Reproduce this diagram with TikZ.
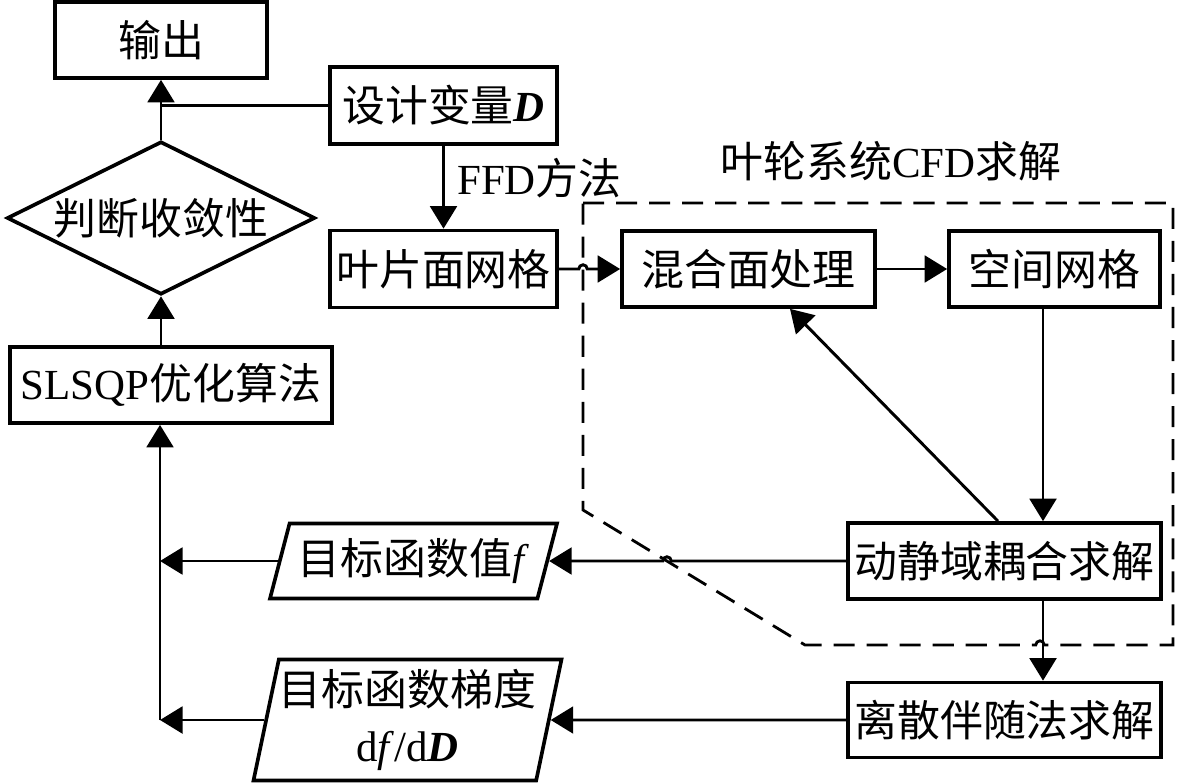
\documentclass[tikz,border=0pt]{standalone}
\usepackage{fontspec}
\setmainfont{Liberation Serif}
\newfontfamily\cjk{Noto Sans CJK SC}
\newcommand{\zh}[1]{{\cjk #1}}
\newcommand{\bigfs}{\fontsize{30.5}{40}\selectfont}
\usetikzlibrary{arrows.meta, shapes.geometric}
\begin{document}
\begin{tikzpicture}[x=0.025cm, y=-0.025cm, every node/.style={font=\bigfs},
  box/.style={draw, line width=2.6pt, inner sep=0pt, minimum height=1.9cm},
  para/.style={draw, line width=2.6pt, trapezium, trapezium stretches=true, inner sep=0pt, align=center},
  cond/.style={draw, line width=2.6pt, diamond, aspect=2, inner sep=0pt},
  link/.style={line width=2.1pt},
  arr/.style={link, -{Triangle[length=16pt, width=19pt]}},
  zone/.style={line width=2pt, dash pattern=on 15pt off 8.5pt}]
  \fill[white] (0,0) rectangle (1181,782);
  \useasboundingbox (0,0) rectangle (1181,782);
  % optimiser column
  \node[box, minimum width=5.3cm] (out) at (161,40) {\zh{输出}};
  \node[cond, minimum width=7.7cm, minimum height=3.825cm] (conv) at (161,218) {\zh{判断收敛性}};
  \node[box, minimum width=8.05cm] (slsqp) at (171,385) {SLSQP\zh{优化算法}};
  % geometry
  \node[box, minimum width=5.675cm, minimum height=1.925cm] (dvar) at (443.5,105.5) {\zh{设计变量}\textbf{\textit{D}}};
  \node[box, minimum width=5.675cm, minimum height=1.925cm] (blade) at (443.5,269) {\zh{叶片面网格}};
  \node[anchor=west, inner sep=0pt] (ffd) at (457,178) {FFD\zh{方法}};
  % CFD block
  \node[inner sep=0pt] (cfdlbl) at (891,161) {\zh{叶轮系统}CFD\zh{求解}};
  \node[box, minimum width=6.325cm] (mixpl) at (748.5,269) {\zh{混合面处理}};
  \node[box, minimum width=5.275cm] (mesh) at (1054.5,269) {\zh{空间网格}};
  \node[box, minimum width=7.825cm] (coupl) at (1004.5,561) {\zh{动静域耦合求解}};
  \node[box, minimum width=7.825cm, minimum height=1.875cm] (adj) at (1004.5,720) {\zh{离散伴随法求解}};
  % outputs of the solver
  \node[para, trapezium left angle=68, trapezium right angle=112, minimum width=7.175cm, minimum height=1.875cm] (fval) at (413.5,561) {\zh{目标函数值}\textit{f}};
  \node[para, trapezium left angle=76, trapezium right angle=104, minimum width=7.625cm, minimum height=3.025cm] (grad) at (407.5,720) {\zh{目标函数梯度}\\d\textit{f}/d\textbf{\textit{D}}};
  \draw[zone] (583,203) -- (1173,203) -- (1173,645) -- (1044.2,645) arc[start angle=0, end angle=180, radius=3pt] -- (805,645) -- (583,510) -- cycle;
  \coordinate (trunk) at (160,0); \coordinate (colx) at (1043,0);
  \coordinate (dgs) at (998,0); \coordinate (dge) at (790,0);
  \coordinate (hopa) at (578.8,269); \coordinate (hopb) at (671.2,561);
  \draw[arr] (conv.north) -- (out.south); \draw[link] (dvar.west) -- (dvar.west -| out.south);
  \draw[arr] (slsqp.north -| conv.south) -- (conv.south);
  \draw[arr] (dvar.south) -- (blade.north);
  \draw[arr] (blade.east) -- (hopa) arc[start angle=180, end angle=0, radius=3pt] -- (mixpl.west);
  \draw[arr] (mixpl.east) -- (mesh.west);
  \draw[arr] (mesh.south -| colx) -- (coupl.north -| colx);
  \draw[arr] (coupl.north -| dgs) -- (mixpl.south -| dge);
  \draw[arr] (coupl.south -| colx) -- (adj.north -| colx);
  \draw[arr] (coupl.west) -- (hopb) arc[start angle=0, end angle=180, radius=3pt] -- (fval.east);
  \draw[arr] (adj.west) -- (grad.east);
  \draw[arr] (fval.west) -- (fval.west -| trunk); \draw[arr] (grad.west) -- (grad.west -| trunk);
  \draw[arr] (grad.west -| trunk) -- (slsqp.south -| trunk);
\end{tikzpicture}
\end{document}
